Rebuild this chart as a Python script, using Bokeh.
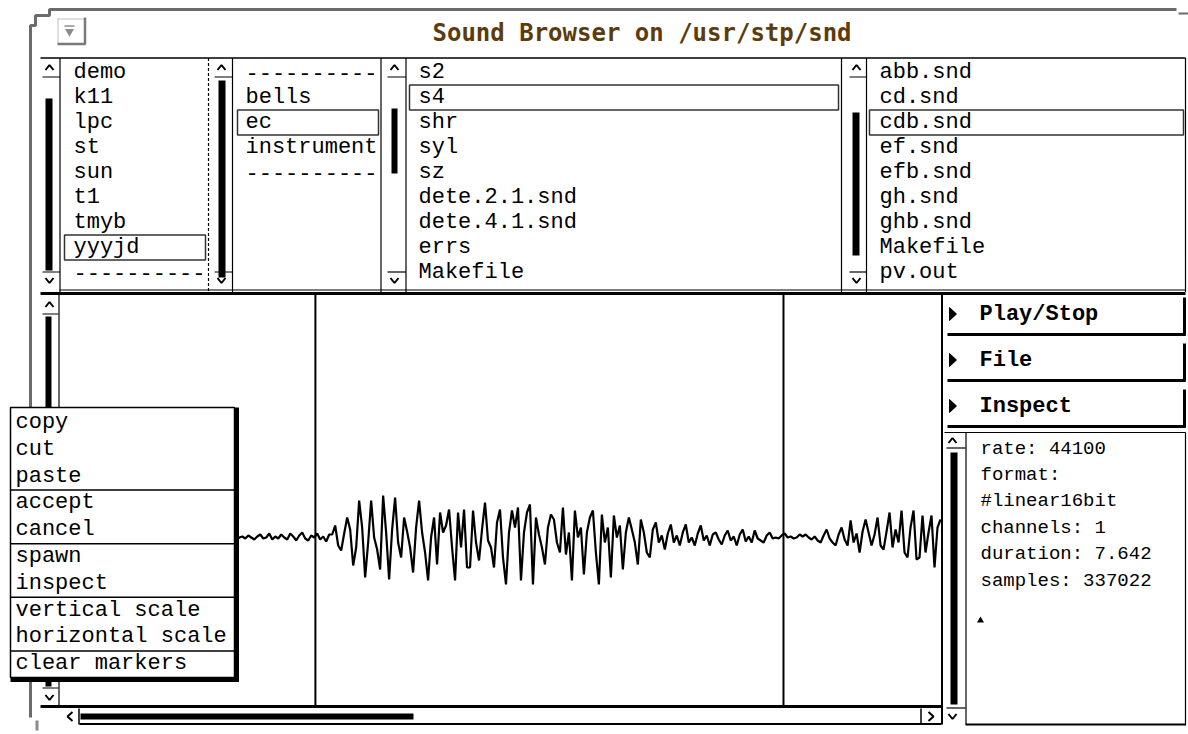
from bokeh.plotting import figure
from bokeh.models import Range1d
from bokeh.core.properties import value
from bokeh.embed import file_html
from bokeh.resources import INLINE

# ---------------- data ----------------
title_text = "Sound Browser on /usr/stp/snd"
pane1_items = ["demo", "k11", "lpc", "st", "sun", "t1", "tmyb", "yyyjd", "----------"]
pane2_items = ["----------", "bells", "ec", "instrument", "----------"]
pane3_items = ["s2", "s4", "shr", "syl", "sz", "dete.2.1.snd", "dete.4.1.snd", "errs", "Makefile"]
pane4_items = ["abb.snd", "cd.snd", "cdb.snd", "ef.snd", "efb.snd", "gh.snd", "ghb.snd", "Makefile", "pv.out"]
selected_index = [7, 2, 1, 2]
menu_items = ["copy", "cut", "paste", "accept", "cancel", "spawn", "inspect",
              "vertical scale", "horizontal scale", "clear markers"]
menu_group_ends = [3, 5, 7, 9]
buttons = ["Play/Stop", "File", "Inspect"]
info_lines = ["rate: 44100", "format:", "#linear16bit", "channels: 1",
              "duration: 7.642", "samples: 337022"]

# waveform amplitudes (display units)
wave_quiet = [0, 1, -1, 2, 0, -2, 1, 3, -1, 0, 2, -1, 1, -3, 0, 2, 1, -2, 0, 1,
              -1, 2, 0, -1, 3, -2, 1, 0, -1, 2, 1, -2, 0, 3, -1, 1, -2, 2, 0, -1,
              4, -1, 2, -3, 1, 0, -2, 3, -1, 1, 2, -4, 3, 0, -1, -5, 2, 1, -2, 0,
              1, -1, 2, 0, -2, 1, 3, -1, 0, 4, -2, 1, -1, 3, 0, -2, 4, 1, -3, 2,
              5, -1, -3, 2, 0, 4, -2, 1, -4, 3]
wave_loud = [3, 12, -8, -13, 4, 20, 8, -28, -10, 37, 10, -40, -5, 37, 0, -12, -32, 42, 5, -42,
             8, 40, -5, -20, 20, 6, -10, -35, 10, 37, 5, -15, -43, 0, 20, -27, 25, 5, 12, 28,
             -10, -43, 25, -10, 28, -30,
             -30, 27, -5, -23, 8, 35, -3, -10, -30, 15, 28, -20, -47, 5, 27, 10, 30, -43, 5, 25,
             33, -47, 20, 3, -10, -27, 10, 23, 18, -5, -15, 30, -17, 5, -43, 27, 0, 10, -37, 5,
             20, 27, -15, -47, 23, -5, 10, -40, 22, 0, 12]
wave_decay = [-32, 5, 20, 8, -5, -27, 18, 5, -15, -20, 8, 15, -5, 2, -12, 4, 13, -5, 2, -8,
              5, 13, -5, 0, -8, 4, 12, -3, 2, -8, 3, 5, -2, -7, 2, 7, -3, 1, -8, 3,
              8, -4, 1, -5, 7, -1, -3, -5, 2, 5, -1, 0, -1, 2, 4]
wave_grow = [0, 1, -1, 0, 3, 1, 3, 0, -2, 1, -3, -5, 2, 8, -1, -5, -8, 3, 10, -2,
             -8, 17, -5, 4, -15, 6, 18, 5, -8, 3, 20, -8, -12, 6, 25, -10, 8, -5, 27, -15,
             -20, 10, 27, -22, -20, 22, -15, 5, 22, -30, 10, 18]
waveform = wave_quiet + wave_loud + wave_decay + wave_grow
marker_samples = [84.4, 240.6]
scroll_thumb_h = [80, 413]

# ---------------- figure ----------------
p = figure(width=1188, height=734, x_range=Range1d(0, 1188), y_range=Range1d(734, 0),
           output_backend="svg", toolbar_location=None, min_border=0,
           x_axis_type=None, y_axis_type=None)
p.grid.visible = False
p.outline_line_color = None
p.background_fill_color = "white"
p.border_fill_color = "white"

MONO = value("Liberation Mono")
XMAX = 1185

segs = []  # (x0, y0, x1, y1, width, color, dash)


def seg(x0, y0, x1, y1, w=1.0, c="black", dash="solid"):
    segs.append((x0, y0, x1, y1, w, c, dash))


def up_caret(cx, cy):
    return [cx - 4, cx, cx + 4], [cy + 2.5, cy - 2.5, cy + 2.5]


def down_caret(cx, cy):
    return [cx - 4, cx, cx + 4], [cy - 2.5, cy + 2.5, cy - 2.5]


carets_x, carets_y = [], []


def add_caret(fn, cx, cy):
    xs, ys = fn(cx, cy)
    carets_x.append(xs)
    carets_y.append(ys)


# window frame (gray)
p.line([30, 30, 35, 35, 49, 49, 1176], [717, 25, 25, 15, 15, 9, 9], line_width=3, line_color="#6b6b6b")
seg(1178, 13, 1188, 13, 2, "#6b6b6b")
seg(36.5, 720, 36.5, 730, 3, "#8a8a8a")

# title button
p.quad(left=[57], right=[85], top=[18], bottom=[43], fill_color="white", line_color=None)
seg(57, 18.5, 85, 18.5, 1, "#c0c0c0")
seg(57.5, 18, 57.5, 43, 1, "#c0c0c0")
seg(84.5, 17, 84.5, 44, 2.5, "#7a7a7a")
seg(57, 43.5, 85, 43.5, 2.5, "#7a7a7a")
p.scatter([69], [31], marker="inverted_triangle", size=9, fill_color="#8c8c8c", line_color=None)
seg(64, 25.5, 74, 25.5, 1.5, "#8c8c8c")

p.text(x=[432], y=[32], text=[title_text], text_font=value("DejaVu Sans Mono"),
       text_font_style="bold", text_font_size="24px", text_color="#5c3c0a",
       text_baseline="middle", text_align="left")

# ---------------- list panes ----------------
LIST_TOP, LIST_BOT = 57.5, 289.5
seg(40, LIST_TOP, XMAX, LIST_TOP, 1.5)
seg(59, LIST_BOT, XMAX, LIST_BOT, 1.2)
seg(40, 293, XMAX, 293, 3)

panes = [
    (pane1_items, 49, 59.5, 73, 208, (45, 52, 98, 270), (64, 205), True),
    (pane2_items, 221, 232, 245, 380.5, (218, 225, 80, 277), (237, 378), False),
    (pane3_items, 394, 405.5, 418, 841, (391, 397, 108, 173), (409, 838), False),
    (pane4_items, 856, 866, 879, XMAX, (852, 859, 112, 255), (869, 1183), False),
]
ROW0, ROWH = 72, 25
for k, (items, cx, sep, tx, rb, th, sb, dashed) in enumerate(panes):
    seg(sep, LIST_TOP, sep, LIST_BOT + 2, 1.2)
    seg(rb, LIST_TOP, rb, LIST_BOT + 2, 1.2, "black", "3 2" if dashed else "solid")
    seg(cx - 7, 76.5, sep, 76.5, 1.2)
    seg(cx - 7, 271.5, sep, 271.5, 1.2)
    add_caret(up_caret, cx, 67)
    add_caret(down_caret, cx, 280)
    p.quad(left=[th[0]], right=[th[1]], top=[th[2]], bottom=[th[3]], fill_color="black", line_color=None)
    ys = [ROW0 + ROWH * i for i in range(len(items))]
    p.text(x=[tx] * len(items), y=ys, text=items, text_font=MONO, text_font_size="22px",
           text_color="black", text_baseline="middle", text_align="left")
    si = selected_index[k]
    yc = ROW0 + ROWH * si
    p.quad(left=[sb[0]], right=[sb[1]], top=[yc - 12.5], bottom=[yc + 12.5],
           fill_color=None, line_color="#333333", line_width=1.5)

# ---------------- waveform pane ----------------
W_LEFT, W_RIGHT, W_TOP, W_BOT = 62, 940, 294, 706
BASE = 537
seg(58.5, W_TOP, 58.5, W_BOT, 1.2)
seg(941.5, W_TOP, 941.5, 724, 2)
seg(40, W_BOT, 941, W_BOT, 3)
seg(42, 313.5, 58, 313.5, 1.2)
seg(42, 687.5, 58, 687.5, 1.2)
add_caret(up_caret, 49, 304)
add_caret(down_caret, 49, 697)
p.quad(left=[45], right=[51], top=[316], bottom=[686], fill_color="black", line_color=None)

n = len(waveform)
step = (W_RIGHT - W_LEFT) / (n - 1)
wave_x = [W_LEFT + i * step for i in range(n)]
wave_y = [BASE - a for a in waveform]
p.line(wave_x, wave_y, line_width=2.2, line_color="black")
for m in marker_samples:
    mx = W_LEFT + m * step
    seg(mx, W_TOP, mx, W_BOT, 2)

# horizontal scrollbar
seg(79, 723.5, 941, 723.5, 2)
seg(78.5, 708, 78.5, 724, 1.5)
seg(920.5, 708, 920.5, 724, 1.5)
carets_x.append([72, 67, 72]); carets_y.append([711.5, 716, 720.5])
carets_x.append([928, 933, 928]); carets_y.append([711.5, 716, 720.5])
p.quad(left=[scroll_thumb_h[0]], right=[scroll_thumb_h[1]], top=[713], bottom=[719],
       fill_color="black", line_color=None)

# ---------------- right panel ----------------
BTN_Y = [314, 360, 406]
for label, by in zip(buttons, BTN_Y):
    seg(947, by + 20, XMAX, by + 20, 3)
    seg(XMAX - 1, by - 17, XMAX - 1, by + 21, 3)
    p.patches([[949, 949, 956]], [[by - 7, by + 6, by - 0.5]], fill_color="black", line_color="black")
p.text(x=[979] * len(buttons), y=BTN_Y, text=buttons, text_font=MONO, text_font_style="bold",
       text_font_size="22px", text_color="black", text_baseline="middle", text_align="left")

# info pane
seg(944, 432, XMAX, 432, 1.2)
seg(965.5, 432, 965.5, 724, 1.2)
seg(965, 724, XMAX, 724, 2)
seg(XMAX, 432, XMAX, 725, 1.2)
seg(946, 447.5, 965, 447.5, 1.2)
seg(946, 707.5, 965, 707.5, 1.2)
add_caret(up_caret, 952, 440)
add_caret(down_caret, 952, 716)
p.quad(left=[950], right=[957], top=[452], bottom=[704], fill_color="black", line_color=None)
info_y = [448 + 26.4 * i for i in range(len(info_lines))]
p.text(x=[980] * len(info_lines), y=info_y, text=info_lines, text_font=MONO,
       text_font_size="19px", text_color="black", text_baseline="middle", text_align="left")
p.scatter([980], [620], marker="triangle", size=7, fill_color="black", line_color=None)

for w in sorted(set((s[4], s[5], s[6]) for s in segs)):
    sel = [s for s in segs if (s[4], s[5], s[6]) == w]
    p.segment(x0=[s[0] for s in sel], y0=[s[1] for s in sel], x1=[s[2] for s in sel],
              y1=[s[3] for s in sel], line_width=w[0], line_color=w[1], line_dash=w[2])
p.multi_line(carets_x, carets_y, line_width=2, line_color="black")

# ---------------- popup menu ----------------
M_L, M_R, M_T, M_B = 10, 234, 407, 677
p.quad(left=[233], right=[238.5], top=[M_T], bottom=[681.5], fill_color="black", line_color=None)
p.quad(left=[M_L], right=[238.5], top=[676], bottom=[681.5], fill_color="black", line_color=None)
p.quad(left=[M_L], right=[M_R], top=[M_T], bottom=[M_B], fill_color="white",
       line_color="black", line_width=1.5)
MROW0, MROWH = 422, 26.8
menu_y = [MROW0 + MROWH * i for i in range(len(menu_items))]
sep_y = [MROW0 + MROWH * (e - 1) + 14 for e in menu_group_ends]
p.segment(x0=[M_L] * len(sep_y), y0=sep_y, x1=[M_R] * len(sep_y), y1=sep_y,
          line_width=1.5, line_color="black")
p.text(x=[15] * len(menu_items), y=menu_y, text=menu_items, text_font=MONO,
       text_font_size="22px", text_color="black", text_baseline="middle", text_align="left")

open("out.html", "w").write(file_html(p, INLINE))
